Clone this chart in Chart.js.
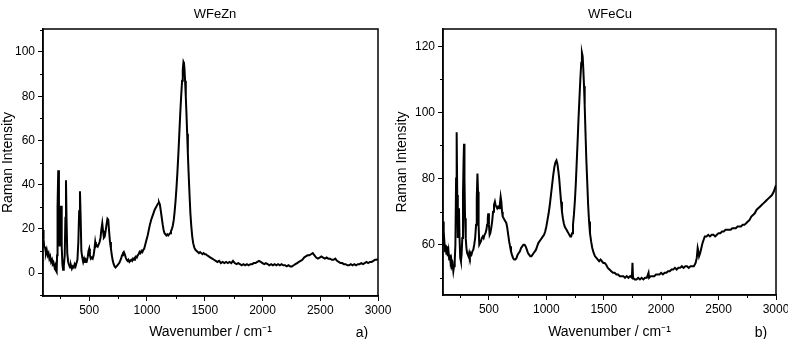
<!DOCTYPE html>
<html>
<head>
<meta charset="utf-8">
<script src="https://cdn.jsdelivr.net/npm/chart.js@4"></script>
<style>
body { margin: 0; background: #fff; }
#wrap { position: relative; width: 788px; height: 339px; font-family: "Liberation Sans", Arial, sans-serif; color: #000; }
.box { position: absolute; top: 0; width: 394px; height: 339px; }
.lbl { position: absolute; transform: translate(-50%, -50%); white-space: nowrap; }
.ttl { font-size: 13px; }
.tag { font-size: 14px; }
</style>
</head>
<body>
<div id="wrap">
  <div class="box" style="left:0"><canvas id="znChart"></canvas></div>
  <div class="box" style="left:394px"><canvas id="cuChart"></canvas></div>
  <div class="lbl ttl" style="left:215px;top:13px">WFeZn</div>
  <div class="lbl ttl" style="left:610px;top:13px">WFeCu</div>
  <div class="lbl tag" style="left:362px;top:332px">a)</div>
  <div class="lbl tag" style="left:761px;top:332px">b)</div>
</div>
<script>
// --- Data ---
const znWave = [100,105,110,118,125,132,140,148,155,162,170,178,185,192,200,207,213,218,222,226,232,238,244,250,256,262,268,274,280,288,294,299,304,310,318,326,334,342,350,358,366,374,382,390,398,406,413,420,426,432,440,448,456,464,472,480,488,494,500,506,514,522,530,538,546,552,558,566,574,582,590,598,606,613,620,627,634,642,650,658,665,672,680,688,696,704,712,720,728,736,744,752,760,768,776,784,792,800,808,816,824,832,840,848,856,864,872,880,888,896,904,912,920,928,936,944,952,960,968,976,986,996,1006,1016,1026,1036,1046,1056,1066,1076,1086,1096,1104,1112,1120,1128,1136,1144,1152,1160,1168,1176,1184,1192,1200,1208,1216,1224,1232,1240,1248,1256,1264,1272,1280,1288,1296,1304,1310,1316,1320,1324,1330,1336,1342,1348,1354,1360,1368,1376,1384,1392,1400,1410,1420,1430,1440,1450,1460,1470,1480,1490,1500,1510,1520,1535,1550,1565,1580,1595,1610,1625,1640,1655,1670,1685,1700,1715,1730,1745,1760,1775,1790,1805,1820,1835,1850,1865,1880,1895,1910,1925,1940,1955,1970,1985,2000,2015,2030,2045,2060,2075,2090,2105,2120,2135,2150,2165,2180,2195,2210,2225,2240,2255,2270,2285,2300,2315,2330,2345,2360,2375,2390,2405,2420,2435,2450,2465,2480,2495,2510,2525,2540,2555,2570,2585,2600,2615,2630,2645,2660,2675,2690,2705,2720,2735,2750,2765,2780,2795,2810,2825,2840,2855,2870,2885,2900,2915,2930,2945,2960,2975,2990,3000];
const znInt = [19.5,15,12,11.5,9,10.5,8,9,6.5,7.5,5,6,4,4.5,2.5,3.5,1,0.5,8,30,46.5,20,12,28,30.4,12,4,1.5,3,8,25,42,24,9,5,3.5,2.5,3.5,2,3,2.5,4,3,4.5,6,14,28,37,25,10,7,5,6.5,5,6,5.5,7.5,10,11,8,6.5,7,6.5,8,11,14,12,12.5,12,13,14,16,20,22.5,19,16,16.5,19,22,24.5,24,19,14,11,8,5.5,4,3,2.5,3,3.5,4,4.5,5.5,6.5,8,9,9.5,8.5,7,6,5.5,6,5,5.5,6,5.5,6.5,6,7,7.5,7,8,8.5,9.5,9,10,9.5,10.5,11,13,15,17,19.5,22,24,25.5,27,28.5,29.5,30.5,31.5,32,31,28,25,22,19.5,18,17.5,17,17.5,17,17.5,18,19,20,21.5,24,28,33,39,46,54,63,72,80,87,92,95.5,95,93,87,80,72,63,54,46,36,27,21,16.5,13.5,11.5,10.5,10,9.5,9,9.5,9,8.5,9,8.5,8.5,8,7.5,7,6.5,6,5.5,5,5.5,4.5,5,4.5,5,4.5,5,4.5,5.5,4.5,4,4.5,4,3.5,4,3.5,4,3.5,4,4,4.5,4.5,5,5.5,5,4.5,4,4.5,4,3.5,4,3.5,4,3.5,4,3.5,4,3.5,3.5,3,3.5,3,3,3.5,4,4.5,5,5.5,6,7,7.5,8,8,8.5,9,8,7,6.5,7,7.5,7,6.5,7,6.5,6.5,6,6,6.5,5.5,5,4.5,4.5,4,4,3.5,3.5,4,3.5,4,3.5,4,4,4.5,4,4.5,5,4.5,5,5,5.5,6,6,6.5];

const cuWave = [100,104,108,112,118,124,130,136,142,148,154,160,166,172,178,184,190,196,202,208,214,219,224,229,234,239,244,250,256,262,268,274,279,283,287,292,298,304,310,316,322,328,334,340,348,356,364,372,380,388,394,400,405,410,416,422,430,438,446,454,462,470,478,484,490,494,500,506,512,520,528,536,544,552,558,564,572,580,588,596,602,608,614,620,628,636,644,652,660,668,676,684,692,700,710,720,730,740,750,760,770,780,790,800,810,820,830,840,850,860,870,880,890,900,910,920,930,940,950,960,970,980,990,1000,1010,1020,1030,1040,1050,1060,1070,1080,1088,1096,1104,1112,1120,1128,1136,1144,1152,1160,1168,1176,1184,1192,1200,1208,1216,1224,1232,1240,1248,1256,1264,1272,1280,1288,1296,1304,1310,1316,1322,1328,1334,1340,1348,1356,1364,1372,1380,1390,1400,1412,1424,1436,1448,1460,1472,1484,1496,1508,1520,1535,1550,1565,1580,1595,1610,1625,1640,1655,1670,1685,1700,1715,1730,1745,1750,1755,1770,1785,1800,1815,1830,1845,1860,1875,1890,1895,1910,1925,1940,1955,1970,1985,2000,2015,2030,2045,2060,2075,2090,2105,2120,2135,2150,2165,2180,2195,2210,2225,2240,2255,2270,2285,2300,2310,2318,2324,2330,2340,2350,2360,2370,2380,2395,2410,2425,2440,2455,2470,2485,2500,2515,2530,2545,2560,2575,2590,2605,2620,2635,2650,2665,2680,2695,2710,2725,2740,2755,2770,2785,2800,2815,2830,2845,2860,2875,2890,2905,2920,2935,2950,2965,2980,2990,3000];
const cuInt = [67,62,59.5,61,58,60,57,59.5,56.5,58,55.5,57,54.5,55.5,53.5,54,52,53.5,55,60,80,94,75,62,68,71,62,56,55,57,62,75,85,90.5,80,68,62,59,57.5,57,56.5,57.5,56.5,57.5,57,58,58.5,60,62,66,74,81.5,76,66,60,60,61,62,62.5,62,63,63.5,64.5,66,68,69.5,66,63,63.5,65,67,70,72,73,72,71.5,71,71.5,71,72.5,74.5,73,70,68.5,68,67.5,67,66.5,65,63,61,59.5,58,57,56,55.5,55.5,56,57,57.5,58,59,59.5,60,60,59.5,58.5,57.5,57,56.5,56.5,57,57.5,58,58.5,59.5,60.5,61,61.5,62,62.5,63,64,65.5,67.5,69.5,72,75,78,81,83.5,85,85.5,84.5,82.5,80,76.5,73,70,68,66.5,65.5,65,64.5,64,63.5,63,62.5,62.5,63.5,66,69,73,78,84.5,91,98,104,110,115,118,117,113,108,102,95,86,79,72,67,63.5,61,59,57.5,56.5,56,55.5,55,55.5,55,54.5,54.5,54,53,52.5,52,51.5,51.5,51,51,50.5,50.5,50.5,50,50.5,50,50.5,50,54.5,50,49.5,49.5,50,49.5,50,49.5,50,50,51.5,50,50.5,50.5,50.5,51,51,51,51.5,51,51.5,51.5,52,52,52.5,52.5,53,52.5,53,53,53.5,53,53.5,53.5,53,53.5,53.5,53.5,54.5,56,59,58,56.5,57.5,59,60.5,61.5,62.5,62.5,63,62.5,63,63,62.5,63,63.5,63.5,64,64,64.5,64.5,64.5,64.5,65,65,65,65.5,65.5,65.5,66,66,66.5,67,67.5,68.5,69,69.5,70.5,71,71.5,72,72.5,73,73.5,74,74.5,75,76,77,78];

// axis ranges and tick values
const xRange = [100, 3000];
const xTicks = [500, 1000, 1500, 2000, 2500, 3000];
const xMinorTicks = [250, 750, 1250, 1750, 2250, 2750];
const znYRange = [-10.4, 110.4];
const znYTicks = [0, 20, 40, 60, 80, 100];
const znYMinorTicks = [-10, 10, 30, 50, 70, 90, 110];
const cuYRange = [44.8, 125.2];
const cuYTicks = [60, 80, 100, 120];
const cuYMinorTicks = [50, 70, 90, 110];

const fontFamily = '"Liberation Sans", Arial, sans-serif';

// frame + minor ticks, placed through the chart's own scales
const framePlugin = {
    id: "frame",
    afterDraw(chart, args, opts) {
        const { ctx, chartArea: a, scales } = chart;
        ctx.save();
        ctx.strokeStyle = "#000";
        ctx.lineWidth = 1.5;
        ctx.strokeRect(a.left, a.top, a.right - a.left, a.bottom - a.top);
        ctx.lineWidth = 1;
        ctx.beginPath();
        opts.xMinor.forEach(v => {
            if (v < scales.x.min || v > scales.x.max) return;
            const px = Math.round(scales.x.getPixelForValue(v)) + 0.5;
            ctx.moveTo(px, a.bottom);
            ctx.lineTo(px, a.bottom + 3);
        });
        opts.yMinor.forEach(v => {
            if (v < scales.y.min || v > scales.y.max) return;
            const py = Math.round(scales.y.getPixelForValue(v)) + 0.5;
            ctx.moveTo(a.left, py);
            ctx.lineTo(a.left - 3, py);
        });
        ctx.stroke();
        ctx.restore();
    }
};

function makePanel(canvasId, wave, inten, yRange, yTicks, yMinor, yAxisW, xAxisH, padRight) {
    const points = wave.map((w, i) => ({ x: w, y: inten[i] }));
    return new Chart(document.getElementById(canvasId), {
        type: "line",
        data: { datasets: [{ data: points, borderColor: "#000", borderWidth: 2, pointRadius: 0, tension: 0, fill: false }] },
        options: {
            responsive: true,
            maintainAspectRatio: false,
            animation: false,
            layout: { padding: { top: 29, right: padRight, left: 0, bottom: 0 } },
            plugins: {
                legend: { display: false },
                tooltip: { enabled: false },
                frame: { xMinor: xMinorTicks, yMinor: yMinor }
            },
            scales: {
                x: {
                    type: "linear",
                    min: xRange[0],
                    max: xRange[1],
                    afterBuildTicks(s) { s.ticks = xTicks.map(v => ({ value: v })); },
                    grid: { drawOnChartArea: false, drawTicks: true, tickLength: 5, tickColor: "#000", tickWidth: 1 },
                    border: { display: true, color: "#000", width: 1.5 },
                    ticks: { maxRotation: 0, autoSkip: false, padding: 2, color: "#000", font: { family: fontFamily, size: 12 }, callback: v => String(v) },
                    title: { display: true, text: "Wavenumber / cm\u207B\u00B9", color: "#000", padding: 0, font: { family: fontFamily, size: 14, lineHeight: 1 } },
                    afterFit(s) { s.height = xAxisH; s.paddingLeft = 0; s.paddingRight = 0; }
                },
                y: {
                    min: yRange[0],
                    max: yRange[1],
                    afterBuildTicks(s) { s.ticks = yTicks.map(v => ({ value: v })); },
                    grid: { drawOnChartArea: false, drawTicks: true, tickLength: 5, tickColor: "#000", tickWidth: 1 },
                    border: { display: true, color: "#000", width: 1.5 },
                    ticks: { autoSkip: false, padding: 3, color: "#000", font: { family: fontFamily, size: 12 }, callback: v => String(v) },
                    title: { display: true, text: "Raman Intensity", color: "#000", padding: 1, font: { family: fontFamily, size: 14, lineHeight: 1 } },
                    afterFit(s) { s.width = yAxisW; s.paddingTop = 0; s.paddingBottom = 0; }
                }
            }
        },
        plugins: [framePlugin]
    });
}

makePanel("znChart", znWave, znInt, znYRange, znYTicks, znYMinorTicks, 43, 43, 16);
makePanel("cuChart", cuWave, cuInt, cuYRange, cuYTicks, cuYMinorTicks, 49, 44, 12);
</script>
</body>
</html>
